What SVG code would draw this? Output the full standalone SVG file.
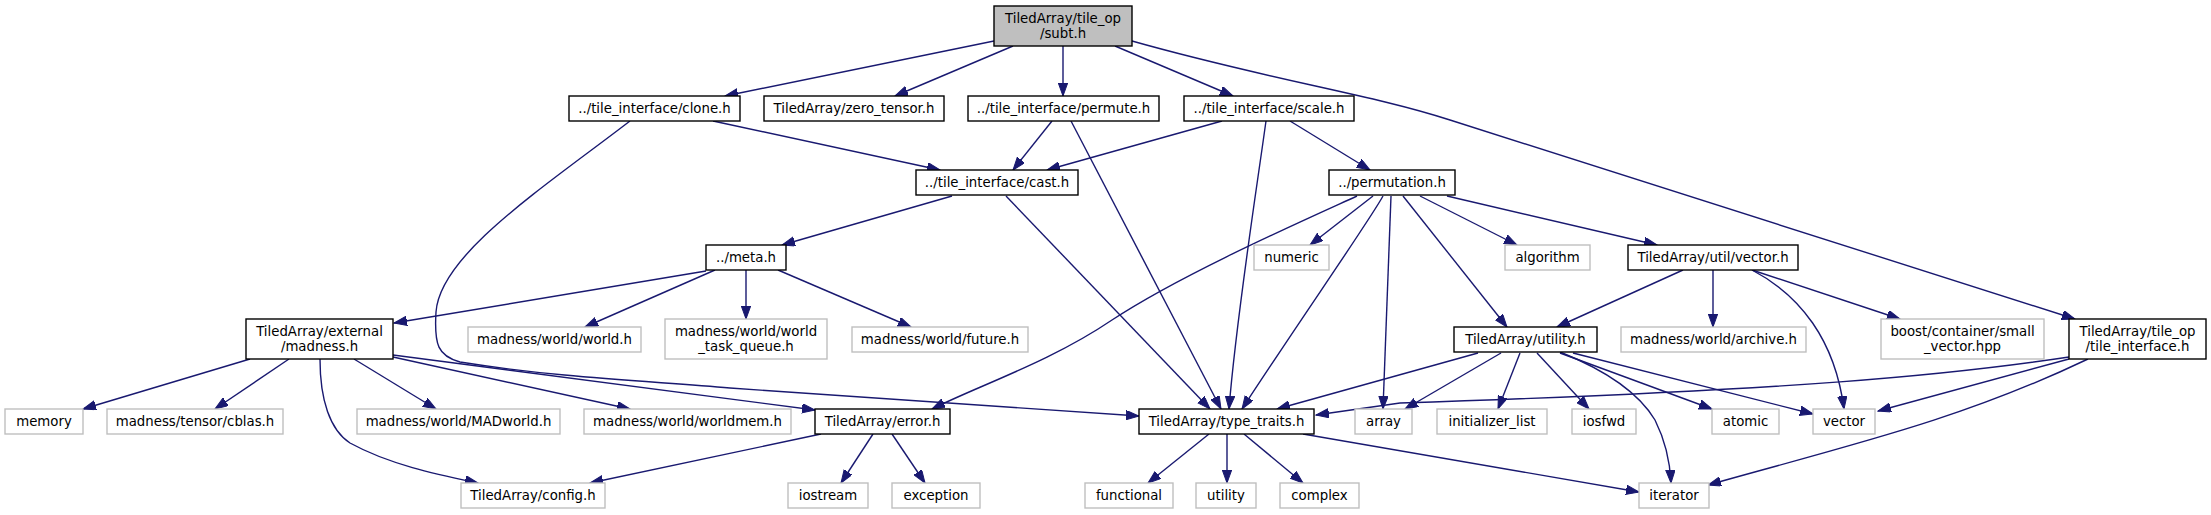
<svg xmlns="http://www.w3.org/2000/svg" width="2211" height="515" viewBox="0 0 2211 515">
<style>
text{font-family:"DejaVu Sans","Liberation Sans",sans-serif;font-size:13.3px;fill:#000;text-anchor:middle}
.b rect{fill:#fff;stroke:#000;stroke-width:1.4}
.g rect{fill:#fff;stroke:#bfbfbf;stroke-width:1.4}
.r rect{fill:#bfbfbf;stroke:#000;stroke-width:1.4}
#edges path{fill:none;stroke:#191970;stroke-width:1.4;marker-end:url(#ah)}
</style>
<defs>
<marker id="ah" markerUnits="userSpaceOnUse" markerWidth="14" markerHeight="10" refX="13" refY="4.7" orient="auto">
<path d="M0,0 L13,4.7 L0,9.4 z" fill="#191970" stroke="#191970" stroke-width="1"/>
</marker>
</defs>
<rect width="2211" height="515" fill="#fff"/>
<g id="edges">
<path d="M994,41 L725,96"/>
<path d="M1013,46 L895,96"/>
<path d="M1063,46 L1063,96"/>
<path d="M1115,46 L1233,96"/>
<path d="M1132,41 C1270,80 1370,94 1450,120 L2075,319"/>
<path d="M713,121 L940,170"/>
<path d="M630,121 C540,190 440,255 436,312 C434,345 438,356 460,362 C560,378 650,381 730,388 L1139,416"/>
<path d="M1052,121 L1013,170"/>
<path d="M1071,121 L1221,409"/>
<path d="M1222,121 L1047,170"/>
<path d="M1266,121 C1255,200 1236,320 1229,409"/>
<path d="M1290,121 L1370,170"/>
<path d="M952,196 L782,245"/>
<path d="M1006,196 L1210,409"/>
<path d="M1357,196 C1300,222 1180,275 1112,320 C1050,362 980,385 932,409"/>
<path d="M1373,196 L1310,245"/>
<path d="M1383,196 C1370,220 1300,320 1242,409"/>
<path d="M1391,196 L1383,409"/>
<path d="M1403,196 L1507,327"/>
<path d="M1420,196 L1517,245"/>
<path d="M1447,196 L1657,245"/>
<path d="M706,271 L394,323"/>
<path d="M715,270 L585,327"/>
<path d="M746,270 L746,319"/>
<path d="M778,270 L911,327"/>
<path d="M250,359 L83,409"/>
<path d="M289,359 L215,409"/>
<path d="M354,359 L436,409"/>
<path d="M393,357 L630,409"/>
<path d="M393,355 L815,410"/>
<path d="M320,359 C320,400 330,430 350,443 C390,465 440,475 478,483"/>
<path d="M821,434 L590,483"/>
<path d="M873,434 L841,483"/>
<path d="M892,434 L925,483"/>
<path d="M1209,434 L1148,483"/>
<path d="M1227,434 L1227,483"/>
<path d="M1244,434 L1303,483"/>
<path d="M1303,434 L1639,492"/>
<path d="M1683,270 L1557,327"/>
<path d="M1713,270 L1713,327"/>
<path d="M1752,270 C1800,295 1835,340 1844,409"/>
<path d="M1752,270 L1900,319"/>
<path d="M1478,353 L1277,409"/>
<path d="M1501,353 L1405,409"/>
<path d="M1520,353 L1498,409"/>
<path d="M1537,353 L1589,409"/>
<path d="M1560,353 L1712,409"/>
<path d="M1573,353 L1813,414"/>
<path d="M1560,352 C1610,372 1640,395 1655,420 C1665,440 1670,460 1671,483"/>
<path d="M2069,357 C1950,375 1800,390 1400,403 L1316,415"/>
<path d="M2069,359 L1878,411"/>
<path d="M2088,359 C1960,420 1850,445 1708,485"/>
</g>
<g id="n_subt" class="r"><rect x="994" y="6" width="138" height="40"/><text x="1063" y="22.5">TiledArray/tile_op</text><text x="1063" y="37.5">/subt.h</text></g>
<g id="n_clone" class="b"><rect x="569" y="96" width="171" height="25"/><text x="654.5" y="113">../tile_interface/clone.h</text></g>
<g id="n_zero" class="b"><rect x="764" y="96" width="180" height="25"/><text x="854" y="113">TiledArray/zero_tensor.h</text></g>
<g id="n_permute" class="b"><rect x="968" y="96" width="191" height="25"/><text x="1063.5" y="113">../tile_interface/permute.h</text></g>
<g id="n_scale" class="b"><rect x="1184" y="96" width="170" height="25"/><text x="1269" y="113">../tile_interface/scale.h</text></g>
<g id="n_cast" class="b"><rect x="916" y="170" width="162" height="25"/><text x="997" y="187">../tile_interface/cast.h</text></g>
<g id="n_permutation" class="b"><rect x="1329" y="170" width="126" height="25"/><text x="1392" y="187">../permutation.h</text></g>
<g id="n_meta" class="b"><rect x="706" y="245" width="80" height="25"/><text x="746" y="262">../meta.h</text></g>
<g id="n_numeric" class="g"><rect x="1254" y="245" width="75" height="25"/><text x="1291.5" y="262">numeric</text></g>
<g id="n_algorithm" class="g"><rect x="1505" y="245" width="85" height="25"/><text x="1547.5" y="262">algorithm</text></g>
<g id="n_utilvector" class="b"><rect x="1628" y="245" width="170" height="25"/><text x="1713" y="262">TiledArray/util/vector.h</text></g>
<g id="n_madness" class="b"><rect x="246" y="319" width="147" height="40"/><text x="319.5" y="335.5">TiledArray/external</text><text x="319.5" y="350.5">/madness.h</text></g>
<g id="n_world" class="g"><rect x="468" y="327" width="173" height="25"/><text x="554.5" y="344">madness/world/world.h</text></g>
<g id="n_wtq" class="g"><rect x="665" y="319" width="162" height="40"/><text x="746" y="335.5">madness/world/world</text><text x="746" y="350.5">_task_queue.h</text></g>
<g id="n_future" class="g"><rect x="852" y="327" width="176" height="25"/><text x="940" y="344">madness/world/future.h</text></g>
<g id="n_utilityh" class="b"><rect x="1454" y="327" width="143" height="25"/><text x="1525.5" y="344">TiledArray/utility.h</text></g>
<g id="n_archive" class="g"><rect x="1621" y="327" width="185" height="25"/><text x="1713.5" y="344">madness/world/archive.h</text></g>
<g id="n_smallvec" class="g"><rect x="1881" y="319" width="163" height="40"/><text x="1962.5" y="335.5">boost/container/small</text><text x="1962.5" y="350.5">_vector.hpp</text></g>
<g id="n_tileif" class="b"><rect x="2069" y="319" width="137" height="40"/><text x="2137.5" y="335.5">TiledArray/tile_op</text><text x="2137.5" y="350.5">/tile_interface.h</text></g>
<g id="n_memory" class="g"><rect x="5" y="409" width="78" height="25"/><text x="44" y="426">memory</text></g>
<g id="n_cblas" class="g"><rect x="107" y="409" width="176" height="25"/><text x="195" y="426">madness/tensor/cblas.h</text></g>
<g id="n_madworld" class="g"><rect x="357" y="409" width="203" height="25"/><text x="458.5" y="426">madness/world/MADworld.h</text></g>
<g id="n_worldmem" class="g"><rect x="584" y="409" width="207" height="25"/><text x="687.5" y="426">madness/world/worldmem.h</text></g>
<g id="n_error" class="b"><rect x="815" y="409" width="135" height="25"/><text x="882.5" y="426">TiledArray/error.h</text></g>
<g id="n_typetraits" class="b"><rect x="1139" y="409" width="175" height="25"/><text x="1226.5" y="426">TiledArray/type_traits.h</text></g>
<g id="n_array" class="g"><rect x="1355" y="409" width="57" height="25"/><text x="1383.5" y="426">array</text></g>
<g id="n_initlist" class="g"><rect x="1437" y="409" width="110" height="25"/><text x="1492" y="426">initializer_list</text></g>
<g id="n_iosfwd" class="g"><rect x="1572" y="409" width="64" height="25"/><text x="1604" y="426">iosfwd</text></g>
<g id="n_atomic" class="g"><rect x="1712" y="409" width="67" height="25"/><text x="1745.5" y="426">atomic</text></g>
<g id="n_vector" class="g"><rect x="1813" y="409" width="62" height="25"/><text x="1844" y="426">vector</text></g>
<g id="n_config" class="g"><rect x="461" y="483" width="144" height="25"/><text x="533" y="500">TiledArray/config.h</text></g>
<g id="n_iostream" class="g"><rect x="788" y="483" width="80" height="25"/><text x="828" y="500">iostream</text></g>
<g id="n_exception" class="g"><rect x="892" y="483" width="88" height="25"/><text x="936" y="500">exception</text></g>
<g id="n_functional" class="g"><rect x="1085" y="483" width="88" height="25"/><text x="1129" y="500">functional</text></g>
<g id="n_utility" class="g"><rect x="1196" y="483" width="60" height="25"/><text x="1226" y="500">utility</text></g>
<g id="n_complex" class="g"><rect x="1280" y="483" width="79" height="25"/><text x="1319.5" y="500">complex</text></g>
<g id="n_iterator" class="g"><rect x="1639" y="483" width="70" height="25"/><text x="1674" y="500">iterator</text></g>
</svg>
